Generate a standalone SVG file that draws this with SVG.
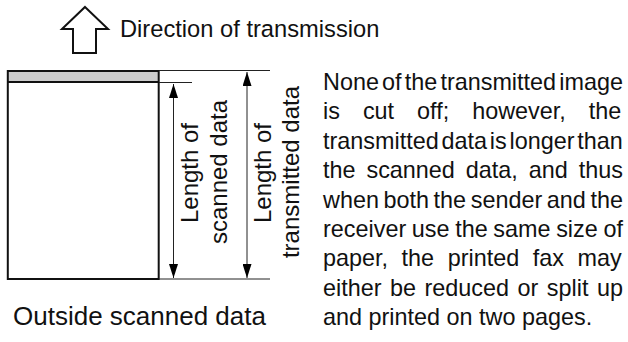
<svg xmlns="http://www.w3.org/2000/svg" width="628" height="342" viewBox="0 0 628 342">
<style>
text{font-family:"Liberation Sans",Arial,sans-serif;fill:#111}
.thin{stroke:#222;stroke-width:1;fill:none}
.para{font-size:23.4px}
.vert{font-size:24px;text-anchor:middle}
</style>
<defs>
<marker id="ah" markerUnits="userSpaceOnUse" markerWidth="14" markerHeight="9" viewBox="0 0 14 9" refX="14" refY="4.5" orient="auto-start-reverse">
<path d="M0,0 L14,4.5 L0,9 Z" fill="#000"/>
</marker>
</defs>
<rect width="628" height="342" fill="#fff"/>
<g id="direction">
<polygon points="85,7 108,29 96,29 96,53 73,53 73,29 62,29" fill="#fff" stroke="#111" stroke-width="2" stroke-linejoin="miter"/>
<text x="120" y="37" font-size="23.7">Direction of transmission</text>
</g>
<g id="page">
<rect x="7.8" y="71" width="150.9" height="11" fill="#cccccc"/>
<rect x="7.8" y="71" width="150.9" height="208" fill="none" stroke="#111" stroke-width="2"/>
<line x1="7.8" y1="82" x2="158.7" y2="82" stroke="#111" stroke-width="2"/>
<text x="13" y="325" font-size="26">Outside scanned data</text>
</g>
<g id="connectors">
<line class="thin" x1="159" y1="70.5" x2="270" y2="70.5"/>
<line class="thin" x1="159" y1="82.5" x2="192" y2="82.5"/>
<line class="thin" x1="159" y1="279" x2="270" y2="279"/>
<line class="thin" x1="173.5" y1="84" x2="173.5" y2="278" marker-start="url(#ah)" marker-end="url(#ah)"/>
<line class="thin" x1="247" y1="72" x2="247" y2="278" marker-start="url(#ah)" marker-end="url(#ah)"/>
</g>
<g id="scanned-label">
<text class="vert" transform="translate(198,173) rotate(-90)">Length of</text>
<text class="vert" transform="translate(227,172) rotate(-90)">scanned data</text>
</g>
<g id="transmitted-label">
<text class="vert" transform="translate(271,173) rotate(-90)">Length of</text>
<text class="vert" transform="translate(299,172) rotate(-90)">transmitted data</text>
</g>
<g id="description" class="para">
<text x="323" y="90" class="para" word-spacing="-3.35">None of the transmitted image</text>
<text x="323" y="119.4" class="para" word-spacing="16.5">is cut off; however, the</text>
<text x="323" y="148.8" class="para" word-spacing="-3.7">transmitted data is longer than</text>
<text x="323" y="178.2" class="para" word-spacing="4.42">the scanned data, and thus</text>
<text x="323" y="207.6" class="para" word-spacing="-1.92">when both the sender and the</text>
<text x="323" y="237" class="para" word-spacing="-0.86">receiver use the same size of</text>
<text x="323" y="266.4" class="para" word-spacing="7.05">paper, the printed fax may</text>
<text x="323" y="295.8" class="para" word-spacing="2">either be reduced or split up</text>
<text x="323" y="325.2" class="para">and printed on two pages.</text>
</g>
</svg>
